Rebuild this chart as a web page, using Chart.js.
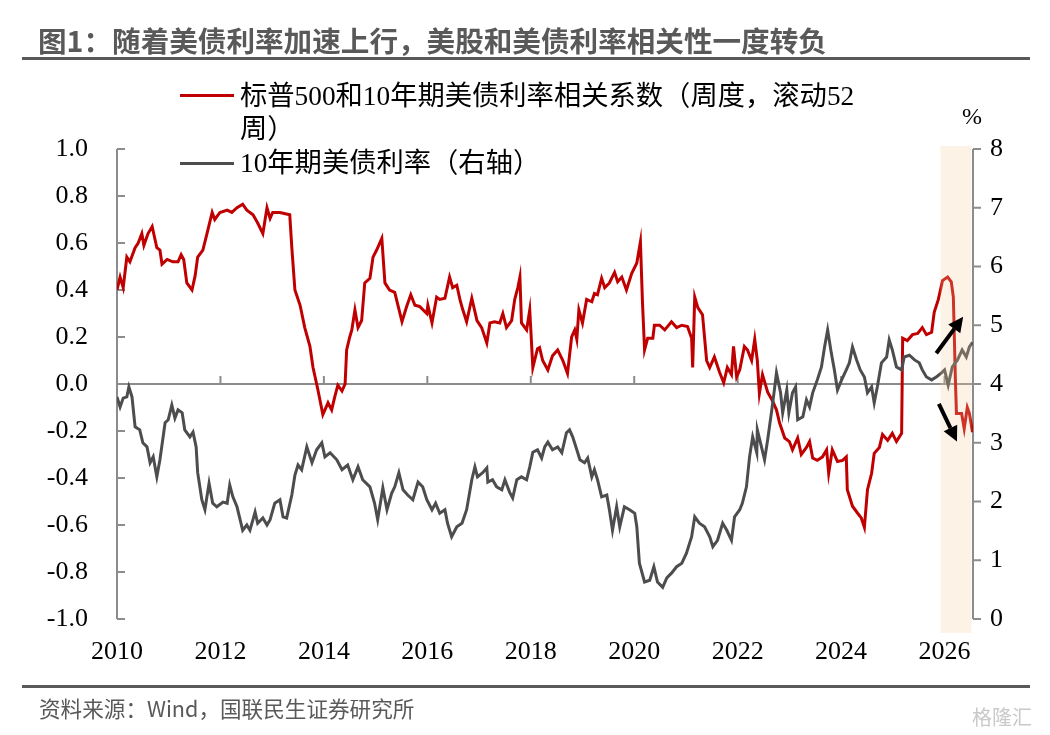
<!DOCTYPE html>
<html>
<head>
<meta charset="utf-8">
<script src="https://cdn.jsdelivr.net/npm/chart.js@4.4.1/dist/chart.umd.min.js"></script>
<style>
  html, body { margin:0; padding:0; background:#fff; }
  #wrap { position:relative; width:1050px; height:735px; overflow:hidden; background:#fff; }
  #c { position:absolute; left:0; top:0; }
  .abs { position:absolute; white-space:nowrap; }
  #title { left:38px; top:23px; font: bold 28.6px/34px "Noto Sans CJK SC", "Noto Sans", sans-serif; color:#595959; }
  #rule1 { left:22px; top:57px; width:1008px; height:3px; background:#595959; }
  #rule2 { left:22px; top:685px; width:1008px; height:3px; background:#595959; }
  .leg { font: 27.3px/33px "Liberation Serif", "Noto Sans CJK SC", serif; color:#000; }
  .swatch { position:absolute; height:3px; width:54px; left:180px; }
  #pct { left:962px; top:102px; font: 24px/28px "Liberation Serif", serif; color:#000; }
  #src { left:39px; top:694px; font: 21.6px/28px "Noto Sans CJK SC", sans-serif; color:#595959; }
  #wm { left:972px; top:704px; font: 20px/26px "Noto Sans CJK SC", sans-serif; color:#c9c9c9; }
</style>
</head>
<body>
<div id="wrap">
  <canvas id="c" width="1050" height="735"></canvas>
  <div id="title" class="abs">图1：随着美债利率加速上行，美股和美债利率相关性一度转负</div>
  <div id="rule1" class="abs"></div>
  <div class="swatch" style="top:94px;background:#C00000;"></div>
  <div class="abs leg" style="left:240px;top:80px;">标普500和10年期美债利率相关系数（周度，滚动52<br>周）</div>
  <div class="swatch" style="top:162px;background:#4D4D4F;"></div>
  <div class="abs leg" style="left:240px;top:147px;">10年期美债利率（右轴）</div>
  <div id="pct" class="abs">%</div>
  <div id="rule2" class="abs"></div>
  <div id="src" class="abs">资料来源：Wind，国联民生证券研究所</div>
  <div id="wm" class="abs">格隆汇</div>
</div>
<script>
// ---------- data ----------
const xTickLabels = ['2010','2012','2014','2016','2018','2020','2022','2024','2026'];
const leftTickValues = [-1.0,-0.8,-0.6,-0.4,-0.2,0.0,0.2,0.4,0.6,0.8,1.0];
const rightTickValues = [0,1,2,3,4,5,6,7,8];

const corrName = '标普500和10年期美债利率相关系数（周度，滚动52周）';
const corrYears = [
2010.00,2010.06,2010.12,2010.19,2010.25,2010.35,2010.41,2010.48,2010.52,2010.60,
2010.68,2010.77,2010.83,2010.87,2010.97,2011.08,2011.18,2011.24,2011.29,2011.35,
2011.45,2011.51,2011.56,2011.66,2011.74,2011.84,2011.89,2011.99,2012.13,2012.22,
2012.32,2012.43,2012.51,2012.63,2012.72,2012.82,2012.90,2012.96,2013.01,2013.15,
2013.34,2013.38,2013.44,2013.54,2013.63,2013.73,2013.79,2013.88,2013.98,2014.08,
2014.15,2014.21,2014.27,2014.35,2014.41,2014.44,2014.50,2014.54,2014.60,2014.66,
2014.73,2014.79,2014.89,2014.95,2015.02,2015.12,2015.18,2015.27,2015.37,2015.51,
2015.60,2015.68,2015.76,2015.85,2015.99,2016.01,2016.09,2016.18,2016.24,2016.34,
2016.43,2016.49,2016.57,2016.63,2016.68,2016.76,2016.86,2016.96,2017.05,2017.15,
2017.21,2017.30,2017.40,2017.46,2017.53,2017.63,2017.69,2017.75,2017.79,2017.82,
2017.92,2017.98,2018.04,2018.13,2018.17,2018.23,2018.33,2018.42,2018.52,2018.62,
2018.71,2018.79,2018.85,2018.89,2018.93,2019.00,2019.08,2019.18,2019.23,2019.29,
2019.37,2019.43,2019.52,2019.62,2019.68,2019.76,2019.85,2019.95,2020.05,2020.12,
2020.16,2020.20,2020.26,2020.36,2020.39,2020.49,2020.59,2020.72,2020.82,2020.92,
2021.03,2021.11,2021.13,2021.17,2021.23,2021.32,2021.40,2021.46,2021.55,2021.65,
2021.73,2021.80,2021.88,2021.92,2021.98,2022.04,2022.13,2022.19,2022.27,2022.33,
2022.38,2022.42,2022.48,2022.58,2022.67,2022.75,2022.81,2022.91,2023.00,2023.06,
2023.16,2023.23,2023.33,2023.39,2023.45,2023.54,2023.64,2023.72,2023.76,2023.83,
2023.93,2024.03,2024.10,2024.12,2024.22,2024.32,2024.39,2024.45,2024.51,2024.59,
2024.64,2024.74,2024.80,2024.90,2024.99,2025.07,2025.17,2025.19,2025.28,2025.38,
2025.48,2025.57,2025.65,2025.75,2025.80,2025.88,2025.96,2026.06,2026.13,2026.17,
2026.21,2026.23,2026.33,2026.38,2026.44,2026.48,2026.54
];
const corrValues = [
0.40,0.455,0.41,0.54,0.52,0.58,0.60,0.64,0.59,0.64,
0.67,0.58,0.57,0.51,0.53,0.52,0.52,0.55,0.53,0.43,
0.40,0.46,0.54,0.57,0.64,0.73,0.70,0.73,0.74,0.73,
0.75,0.765,0.74,0.72,0.685,0.64,0.75,0.705,0.73,0.73,
0.72,0.58,0.40,0.335,0.24,0.16,0.07,-0.02,-0.13,-0.08,
-0.11,-0.055,-0.005,-0.03,0.00,0.145,0.20,0.23,0.315,0.24,
0.27,0.43,0.45,0.54,0.57,0.62,0.43,0.40,0.39,0.265,
0.33,0.38,0.335,0.33,0.30,0.335,0.26,0.37,0.36,0.365,
0.455,0.41,0.42,0.36,0.32,0.265,0.365,0.27,0.24,0.175,
0.26,0.265,0.26,0.30,0.24,0.27,0.36,0.41,0.455,0.26,
0.23,0.315,0.07,0.15,0.155,0.10,0.06,0.12,0.145,0.10,
0.045,0.20,0.23,0.19,0.315,0.26,0.36,0.35,0.385,0.38,
0.45,0.41,0.43,0.475,0.435,0.455,0.40,0.47,0.515,0.605,
0.345,0.145,0.195,0.195,0.25,0.25,0.23,0.265,0.24,0.25,
0.245,0.195,0.07,0.37,0.325,0.295,0.10,0.07,0.115,0.05,
0.005,0.07,0.04,0.16,0.03,0.06,0.16,0.145,0.10,0.19,
0.10,-0.04,0.04,-0.035,-0.07,-0.11,-0.165,-0.23,-0.245,-0.28,
-0.23,-0.30,-0.27,-0.245,-0.315,-0.325,-0.31,-0.28,-0.38,-0.28,
-0.33,-0.325,-0.31,-0.45,-0.52,-0.55,-0.57,-0.61,-0.45,-0.38,
-0.295,-0.27,-0.215,-0.24,-0.21,-0.245,-0.21,0.195,0.185,0.21,
0.215,0.24,0.21,0.22,0.305,0.36,0.44,0.455,0.435,0.37,
0.015,-0.125,-0.125,-0.19,-0.10,-0.125,-0.205
];

const yieldName = '10年期美债利率（右轴）';
const yieldYears = [
2010.00,2010.06,2010.12,2010.19,2010.23,2010.29,2010.35,2010.44,2010.50,2010.58,
2010.64,2010.70,2010.77,2010.83,2010.93,2010.99,2011.06,2011.12,2011.18,2011.26,
2011.31,2011.41,2011.47,2011.53,2011.56,2011.64,2011.70,2011.78,2011.85,2011.93,
2012.05,2012.13,2012.18,2012.24,2012.32,2012.38,2012.43,2012.51,2012.57,2012.67,
2012.72,2012.82,2012.90,2012.96,2013.05,2013.15,2013.21,2013.28,2013.38,2013.44,
2013.50,2013.57,2013.67,2013.77,2013.86,2013.96,2014.02,2014.12,2014.25,2014.35,
2014.46,2014.56,2014.66,2014.75,2014.89,2014.98,2015.04,2015.14,2015.22,2015.31,
2015.37,2015.45,2015.53,2015.62,2015.72,2015.82,2015.91,2015.99,2016.09,2016.16,
2016.24,2016.34,2016.39,2016.47,2016.57,2016.67,2016.76,2016.86,2016.92,2016.97,
2017.07,2017.15,2017.17,2017.26,2017.34,2017.44,2017.50,2017.59,2017.65,2017.73,
2017.82,2017.92,2017.98,2018.04,2018.13,2018.21,2018.27,2018.33,2018.42,2018.52,
2018.60,2018.69,2018.75,2018.81,2018.89,2018.95,2019.04,2019.10,2019.18,2019.23,
2019.29,2019.37,2019.47,2019.52,2019.58,2019.66,2019.72,2019.81,2019.91,2020.01,
2020.05,2020.10,2020.20,2020.30,2020.38,2020.45,2020.55,2020.63,2020.72,2020.82,
2020.92,2021.01,2021.11,2021.17,2021.26,2021.36,2021.46,2021.52,2021.61,2021.71,
2021.79,2021.88,2021.94,2022.04,2022.09,2022.17,2022.23,2022.29,2022.37,2022.38,
2022.46,2022.52,2022.58,2022.66,2022.71,2022.75,2022.83,2022.87,2022.95,2022.99,
2023.06,2023.12,2023.16,2023.26,2023.33,2023.39,2023.45,2023.54,2023.62,2023.68,
2023.74,2023.81,2023.87,2023.93,2024.01,2024.10,2024.16,2024.22,2024.30,2024.37,
2024.45,2024.51,2024.59,2024.64,2024.70,2024.78,2024.88,2024.93,2024.99,2025.07,
2025.17,2025.22,2025.32,2025.42,2025.51,2025.57,2025.65,2025.75,2025.84,2025.94,
2026.00,2026.07,2026.15,2026.25,2026.34,2026.42,2026.48,2026.54
];
const yieldValues = [
3.78,3.61,3.76,3.78,3.95,3.78,3.27,3.22,3.00,2.93,
2.66,2.76,2.42,2.71,3.34,3.39,3.64,3.42,3.56,3.51,
3.22,3.10,3.18,2.93,2.49,2.03,1.86,2.31,1.97,1.91,
1.99,1.97,2.28,2.08,1.91,1.69,1.51,1.60,1.51,1.82,
1.63,1.72,1.60,1.69,1.97,2.03,1.74,1.72,2.11,2.45,
2.62,2.54,2.93,2.66,2.88,3.00,2.76,2.83,2.71,2.54,
2.62,2.37,2.59,2.37,2.25,1.97,1.69,2.23,1.86,2.14,
2.25,2.49,2.20,2.11,2.03,2.33,2.25,2.03,1.86,1.97,
1.80,1.86,1.63,1.40,1.57,1.63,1.86,2.37,2.59,2.42,
2.49,2.57,2.33,2.37,2.25,2.20,2.37,2.16,2.06,2.37,
2.42,2.37,2.59,2.84,2.88,2.74,2.93,3.01,2.88,2.93,
2.83,3.17,3.22,3.10,2.88,2.71,2.66,2.74,2.42,2.54,
2.37,2.08,2.11,1.86,1.51,1.91,1.57,1.91,1.86,1.80,
1.57,0.95,0.63,0.66,0.89,0.63,0.54,0.70,0.78,0.89,
0.95,1.12,1.40,1.74,1.63,1.57,1.40,1.23,1.34,1.63,
1.51,1.34,1.74,1.86,1.97,2.25,2.76,3.10,2.83,3.22,
2.93,2.71,3.05,3.56,3.90,4.19,3.85,3.51,3.90,3.51,
3.85,3.95,3.39,3.44,3.73,3.61,3.85,4.07,4.29,4.63,
4.92,4.53,4.24,3.90,4.07,4.24,4.36,4.63,4.41,4.24,
4.12,3.85,3.95,3.68,3.95,4.36,4.46,4.75,4.58,4.29,
4.24,4.46,4.49,4.41,4.36,4.24,4.12,4.07,4.12,4.19,
4.24,3.98,4.29,4.41,4.58,4.46,4.63,4.71
];

// highlighted period and annotation arrows (data units: year, left-axis value)
const shadeRange = [2025.92, 2026.52];
const arrowUp = { from:[2025.84, 0.131], to:[2026.36, 0.286] };
const arrowDown = { from:[2025.89, -0.085], to:[2026.24, -0.245] };

// ---------- styles ----------
const RED = '#C00000';
const GRAY = '#4D4D4F';
const AXIS = '#8C8C8C';
const SERIF = "'Liberation Serif', 'Times New Roman', serif";

const corrData = corrYears.map((x, i) => ({ x, y: corrValues[i] }));
const yieldData = yieldYears.map((x, i) => ({ x, y: yieldValues[i] }));

function seg(ctx, x1, y1, x2, y2) {
  ctx.beginPath(); ctx.moveTo(x1, y1); ctx.lineTo(x2, y2); ctx.stroke();
}

const axesPlugin = {
  id: 'axesDeco',
  beforeDatasetsDraw(chart) {
    const { ctx, chartArea: a, scales } = chart;
    const x = scales.x, y = scales.y, y1 = scales.y1;
    ctx.save();
    ctx.strokeStyle = AXIS;
    ctx.lineWidth = 2;
    ctx.lineCap = 'butt';
    seg(ctx, a.left, a.top, a.left, a.bottom);
    seg(ctx, a.right, a.top, a.right, a.bottom);
    const y0 = y.getPixelForValue(0);
    seg(ctx, a.left, y0, a.right, y0);
    y.ticks.forEach(t => { const p = y.getPixelForValue(t.value); seg(ctx, a.left, p, a.left + 8, p); });
    y1.ticks.forEach(t => { const p = y1.getPixelForValue(t.value); seg(ctx, a.right, p, a.right + 8, p); });
    x.ticks.forEach(t => { const p = x.getPixelForValue(t.value); seg(ctx, p, y0, p, y0 - 8); });
    ctx.restore();
  }
};

function drawArrow(ctx, x1, y1, x2, y2) {
  const ang = Math.atan2(y2 - y1, x2 - x1);
  const hl = 15, hw = 7.5;
  const bx = x2 - hl * Math.cos(ang), by = y2 - hl * Math.sin(ang);
  ctx.beginPath(); ctx.moveTo(x1, y1); ctx.lineTo(bx, by); ctx.stroke();
  ctx.beginPath();
  ctx.moveTo(x2, y2);
  ctx.lineTo(bx + hw * Math.sin(ang), by - hw * Math.cos(ang));
  ctx.lineTo(bx - hw * Math.sin(ang), by + hw * Math.cos(ang));
  ctx.closePath(); ctx.fill();
}

const overlayPlugin = {
  id: 'overlay',
  afterDatasetsDraw(chart) {
    const { ctx, chartArea: a, scales } = chart;
    const x = scales.x, y = scales.y;
    ctx.save();
    const xs = x.getPixelForValue(shadeRange[0]), xe = x.getPixelForValue(shadeRange[1]);
    ctx.fillStyle = 'rgba(245,205,150,0.25)';
    ctx.fillRect(xs, a.top - 3, xe - xs, a.bottom - a.top + 17);
    ctx.strokeStyle = '#000'; ctx.fillStyle = '#000'; ctx.lineWidth = 4;
    [arrowUp, arrowDown].forEach(ar => {
      drawArrow(ctx, x.getPixelForValue(ar.from[0]), y.getPixelForValue(ar.from[1]),
                     x.getPixelForValue(ar.to[0]), y.getPixelForValue(ar.to[1]));
    });
    ctx.restore();
  }
};

new Chart(document.getElementById('c'), {
  type: 'line',
  data: {
    datasets: [
      { label: yieldName, data: yieldData, yAxisID: 'y1', borderColor: GRAY, borderWidth: 3,
        pointRadius: 0, tension: 0, fill: false },
      { label: corrName, data: corrData, yAxisID: 'y', borderColor: RED, borderWidth: 3,
        pointRadius: 0, tension: 0, fill: false }
    ]
  },
  options: {
    responsive: false,
    animation: false,
    layout: { padding: { top: 149, left: 0, right: 0, bottom: 0 } },
    plugins: { legend: { display: false }, tooltip: { enabled: false } },
    scales: {
      x: {
        type: 'linear', position: 'bottom', min: 2010, max: 2026.55,
        afterBuildTicks: s => { s.ticks = xTickLabels.map(v => ({ value: Number(v) })); },
        afterFit: s => { s.height = 116; },
        grid: { display: false, drawTicks: false }, border: { display: false },
        ticks: { padding: 18, color: '#000', font: { family: SERIF, size: 26 },
                 maxRotation: 0, autoSkip: false, callback: v => String(v) }
      },
      y: {
        position: 'left', min: -1, max: 1,
        afterBuildTicks: s => { s.ticks = leftTickValues.map(v => ({ value: v })); },
        afterFit: s => { s.width = 117; },
        grid: { display: false, drawTicks: false }, border: { display: false },
        ticks: { padding: 29, color: '#000', font: { family: SERIF, size: 26 },
                 callback: v => (Math.abs(v) < 1e-9 ? 0 : v).toFixed(1) }
      },
      y1: {
        position: 'right', min: 0, max: 8,
        afterBuildTicks: s => { s.ticks = rightTickValues.map(v => ({ value: v })); },
        afterFit: s => { s.width = 77; },
        grid: { display: false, drawTicks: false }, border: { display: false },
        ticks: { padding: 17, color: '#000', font: { family: SERIF, size: 26 },
                 callback: v => String(v) }
      }
    }
  },
  plugins: [axesPlugin, overlayPlugin]
});
</script>
</body>
</html>
